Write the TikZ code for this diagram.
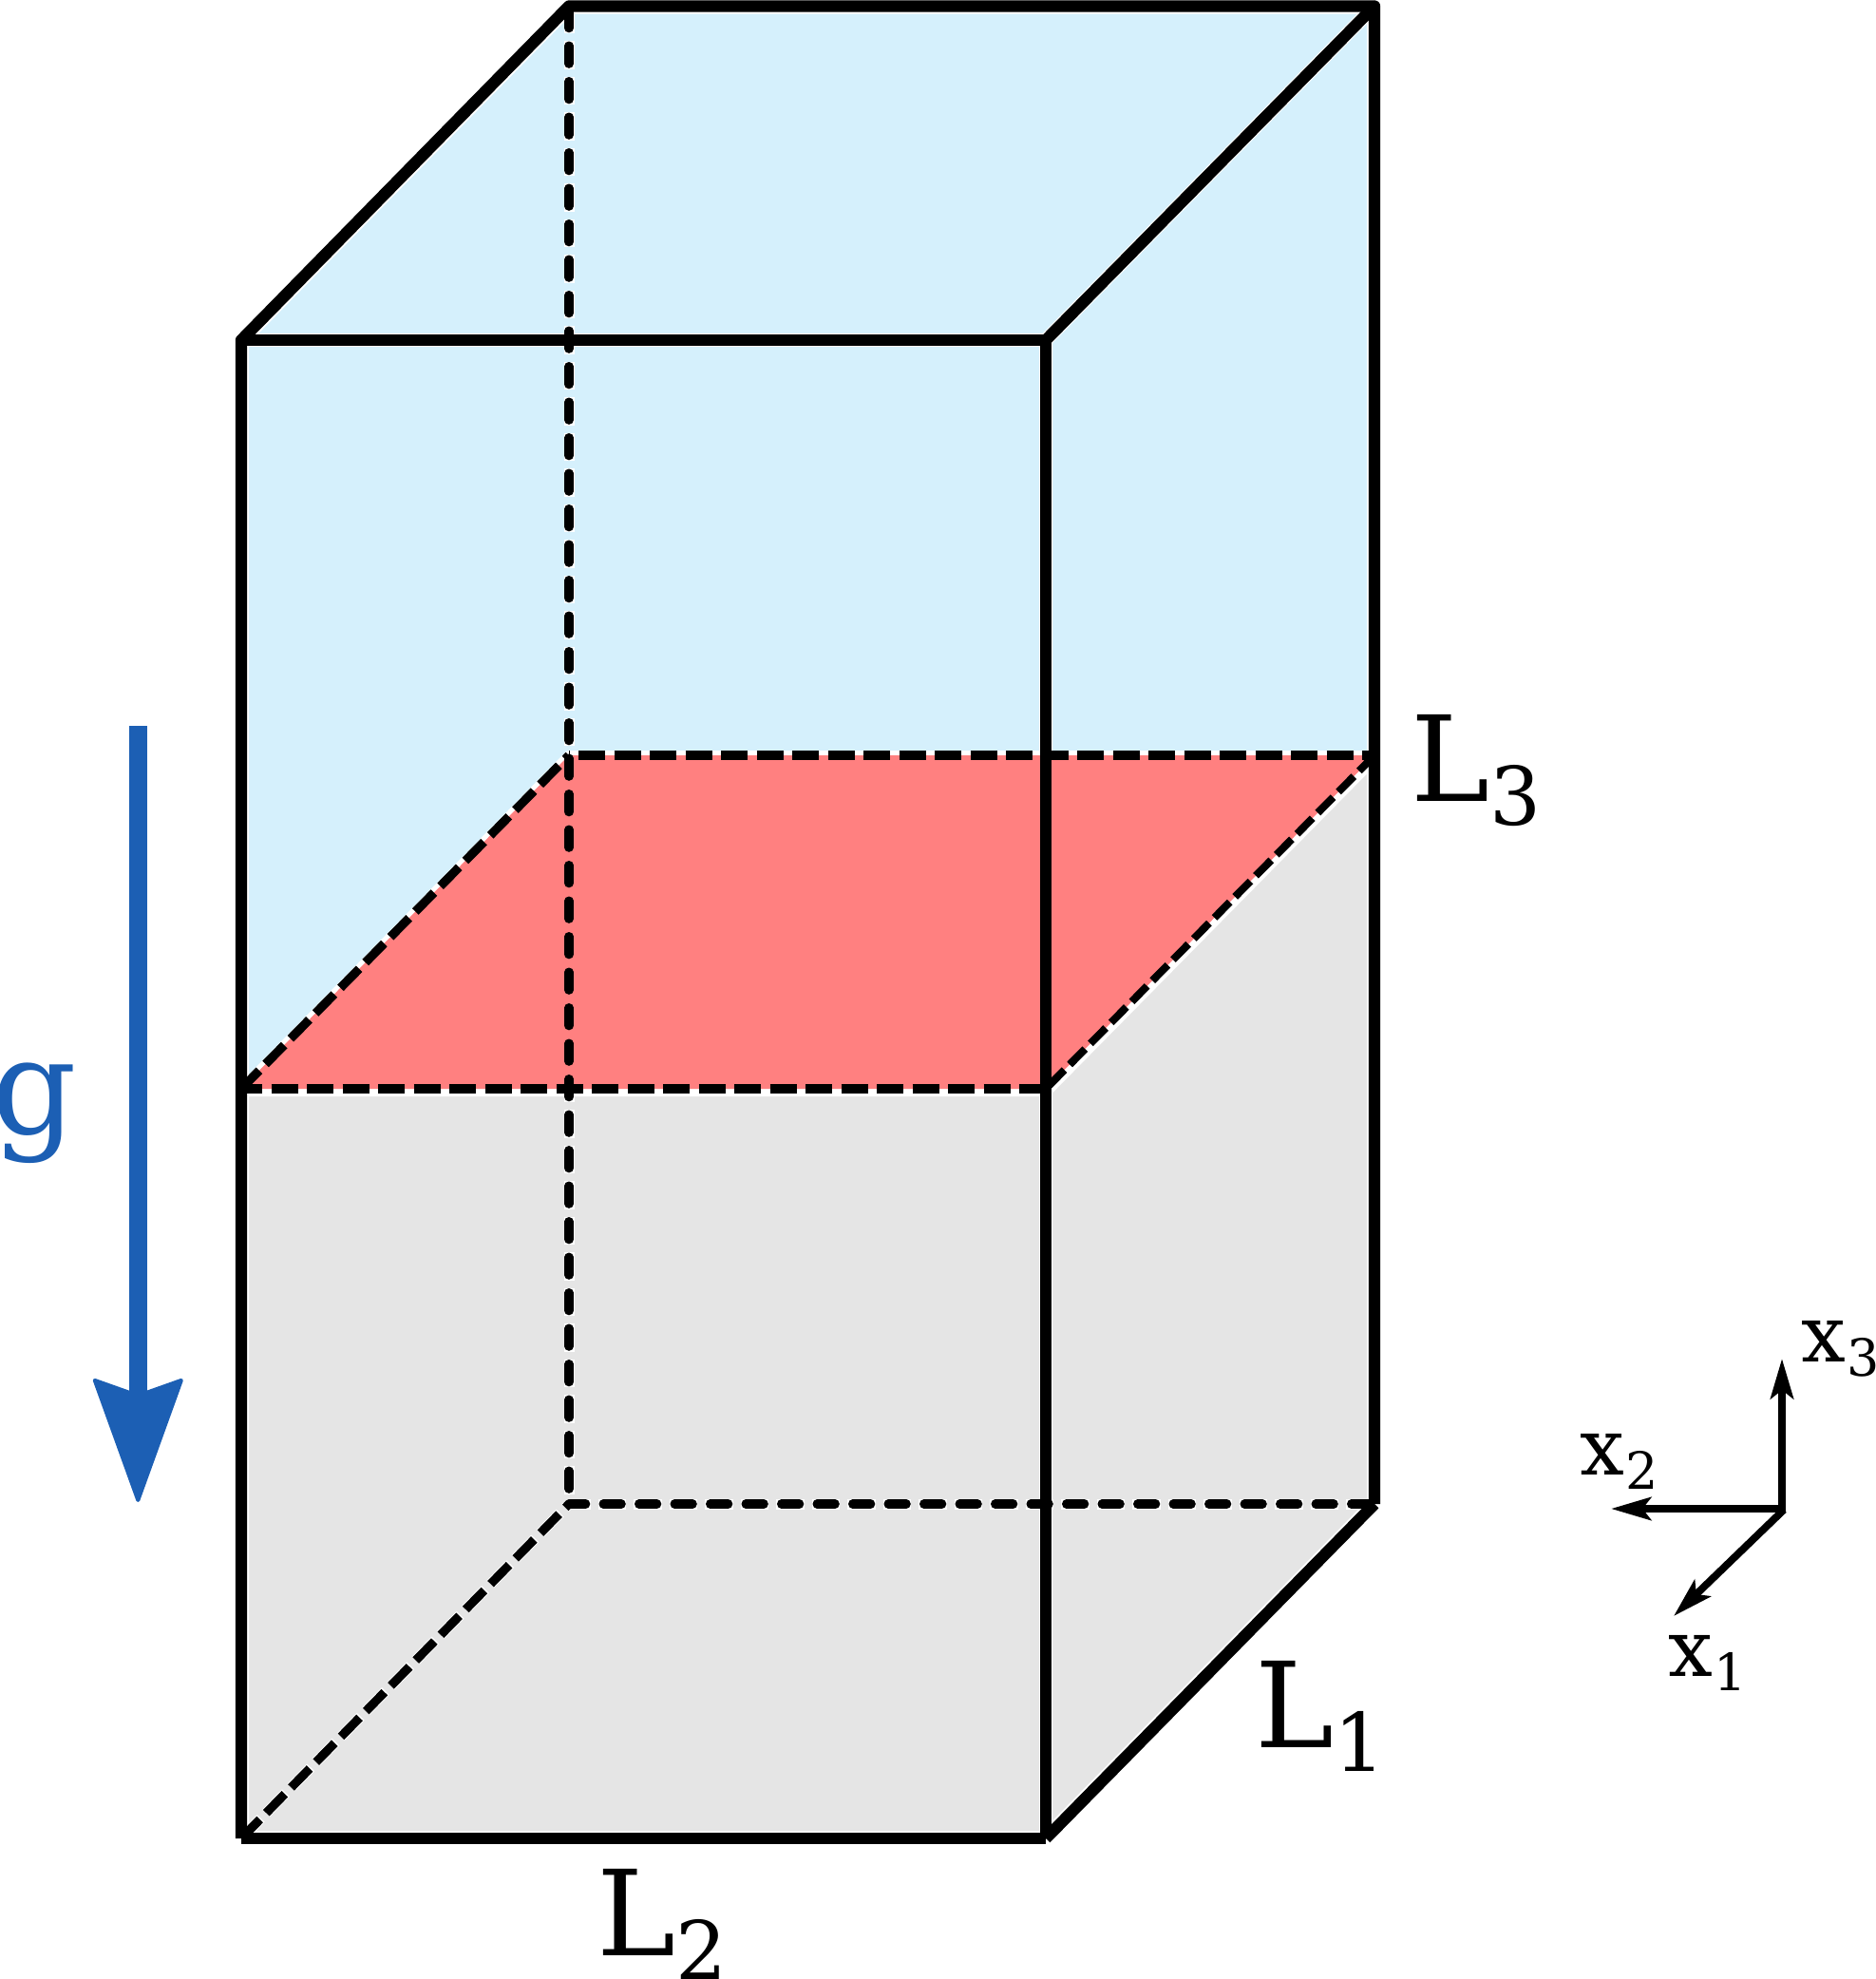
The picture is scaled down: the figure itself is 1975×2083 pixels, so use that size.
\documentclass[tikz,border=0pt]{standalone}
\usepackage{fontspec}
\usetikzlibrary{arrows.meta}
\newfontfamily\dvs{DejaVu Serif}
\definecolor{waterblue}{HTML}{D5F0FC}
\definecolor{midred}{HTML}{FF8080}
\definecolor{softgrey}{HTML}{E5E5E5}
\definecolor{gblue}{HTML}{1C5FB4}
\newcommand{\biglab}[2]{{\fontsize{125}{140}\selectfont #1\raisebox{-25pt}{\fontsize{85}{90}\selectfont #2}}}
\newcommand{\smalllab}[2]{{\fontsize{83}{95}\selectfont #1\kern2pt\raisebox{-15pt}{\fontsize{54}{60}\selectfont #2}}}
\tikzset{
  x=1pt,y=-1pt,
  every node/.style={inner sep=0pt,outer sep=0pt,anchor=base west,font=\dvs},
  solidedge/.style={line width=12.3pt,line join=round},
  halo/.style={draw=white,line width=14.5pt},
  rounddash/.style={line width=9.3pt,line cap=round,dash pattern=on 19pt off 18.5pt},
  rounddashhalo/.style={draw=white,line width=11pt,dash pattern=on 29.5pt off 8pt},
  squaredash/.style={line width=9.3pt,dash pattern=on 28pt off 9.5pt},
  thindash/.style={line width=8pt,dash pattern=on 23pt off 8pt},
  axisarrow/.style={line width=7.8pt,-{Stealth[length=42pt,width=24pt,inset=9pt]}},
}
\begin{document}
\begin{tikzpicture}
\useasboundingbox (0,0) rectangle (1975,2083);
% cube corners
\coordinate (TBL) at (599,6.5);
\coordinate (TBR) at (1447,6.5);
\coordinate (TFL) at (254,358);
\coordinate (TFR) at (1101,358);
\coordinate (MBL) at (599,795);
\coordinate (MBR) at (1447,795);
\coordinate (MFL) at (254,1146);
\coordinate (MFR) at (1101,1146);
\coordinate (BBL) at (599,1583);
\coordinate (BBR) at (1447,1583);
\coordinate (BFL) at (254,1935);
\coordinate (BFR) at (1101,1935);
% fills
\filldraw[fill=waterblue,draw=white,line width=16pt,line join=round]
  (TFL)--(TBL)--(TBR)--(MBR)--(MFR)--(MFL)--cycle;
\filldraw[fill=softgrey,draw=white,line width=16pt,line join=round]
  (MFL)--(MFR)--(MBR)--(BBR)--(BFR)--(BFL)--cycle;
% thin white halos of inner edges
\draw[halo] (TFL)--(TFR);
\draw[halo] (TFR)--(TBR);
\draw[halo] (TFR)--(BFR);
\draw[rounddashhalo,dash phase=1pt] (TBL)--(BBL);
\draw[rounddashhalo] (BFL)--(BBL);
\draw[rounddashhalo,dash phase=7pt] (BBL)--(BBR);
% interface plane
\draw[draw=white,line width=10pt,line join=round] (MFL)--(MBL)--(MBR)--(MFR)--cycle;
\fill[midred] (MFL)--(MBL)--(MBR)--(MFR)--cycle;
% hidden edges
\draw[rounddash,dash phase=33.35pt] (TBL)--(BBL);
\draw[squaredash] (BFL)--(BBL);
\draw[rounddash,dash phase=1.35pt] (BBL)--(BBR);
\draw[squaredash,dash phase=6pt] (MFL)--(MFR);
\draw[squaredash,dash phase=27.5pt] (MBL)--(MBR);
\draw[squaredash,dash phase=1pt] (MFL)--(MBL);
\draw[thindash] (MBR)--(MFR);
% solid edges
\draw[solidedge] (BFL)--(TFL)--(TBL)--(TBR)--(BBR);
\draw[solidedge] (TFL)--(TFR);
\draw[solidedge] (TFR)--(TBR);
\draw[solidedge] (TFR)--(BFR);
\draw[solidedge] (BFL)--(BFR);
\draw[solidedge] (BFR)--(BBR);
% gravity
\coordinate (GT) at (145.3,764);
\coordinate (GB) at (145.3,1581);
\draw[gblue,line width=19pt,-{Stealth[length=135pt,width=97pt,inset=17pt,round,line width=4pt]}] (GT)--(GB);
\node[text=gblue,font=\dvs\fontsize{140}{150}\selectfont] (g) at (-9,1193) {g};
% dimension labels
\node (L1) at (1321,1839) {\biglab{L}{1}};
\node (L2) at (628,2058) {\biglab{L}{2}};
\node (L3) at (1485,843) {\biglab{L}{3}};
% axes
\coordinate (Ov) at (1876,1593);
\coordinate (Oh) at (1880,1588);
\coordinate (Od) at (1878,1589);
\coordinate (X3) at (1876,1430);
\coordinate (X2) at (1696,1588);
\coordinate (X1) at (1762,1701);
\draw[axisarrow] (Ov)--(X3);
\draw[axisarrow] (Oh)--(X2);
\draw[axisarrow] (Od)--(X1);
\node (lx3) at (1896,1433) {\smalllab{x}{3}};
\node (lx2) at (1663,1552) {\smalllab{x}{2}};
\node (lx1) at (1756,1764) {\smalllab{x}{1}};
\end{tikzpicture}
\end{document}
